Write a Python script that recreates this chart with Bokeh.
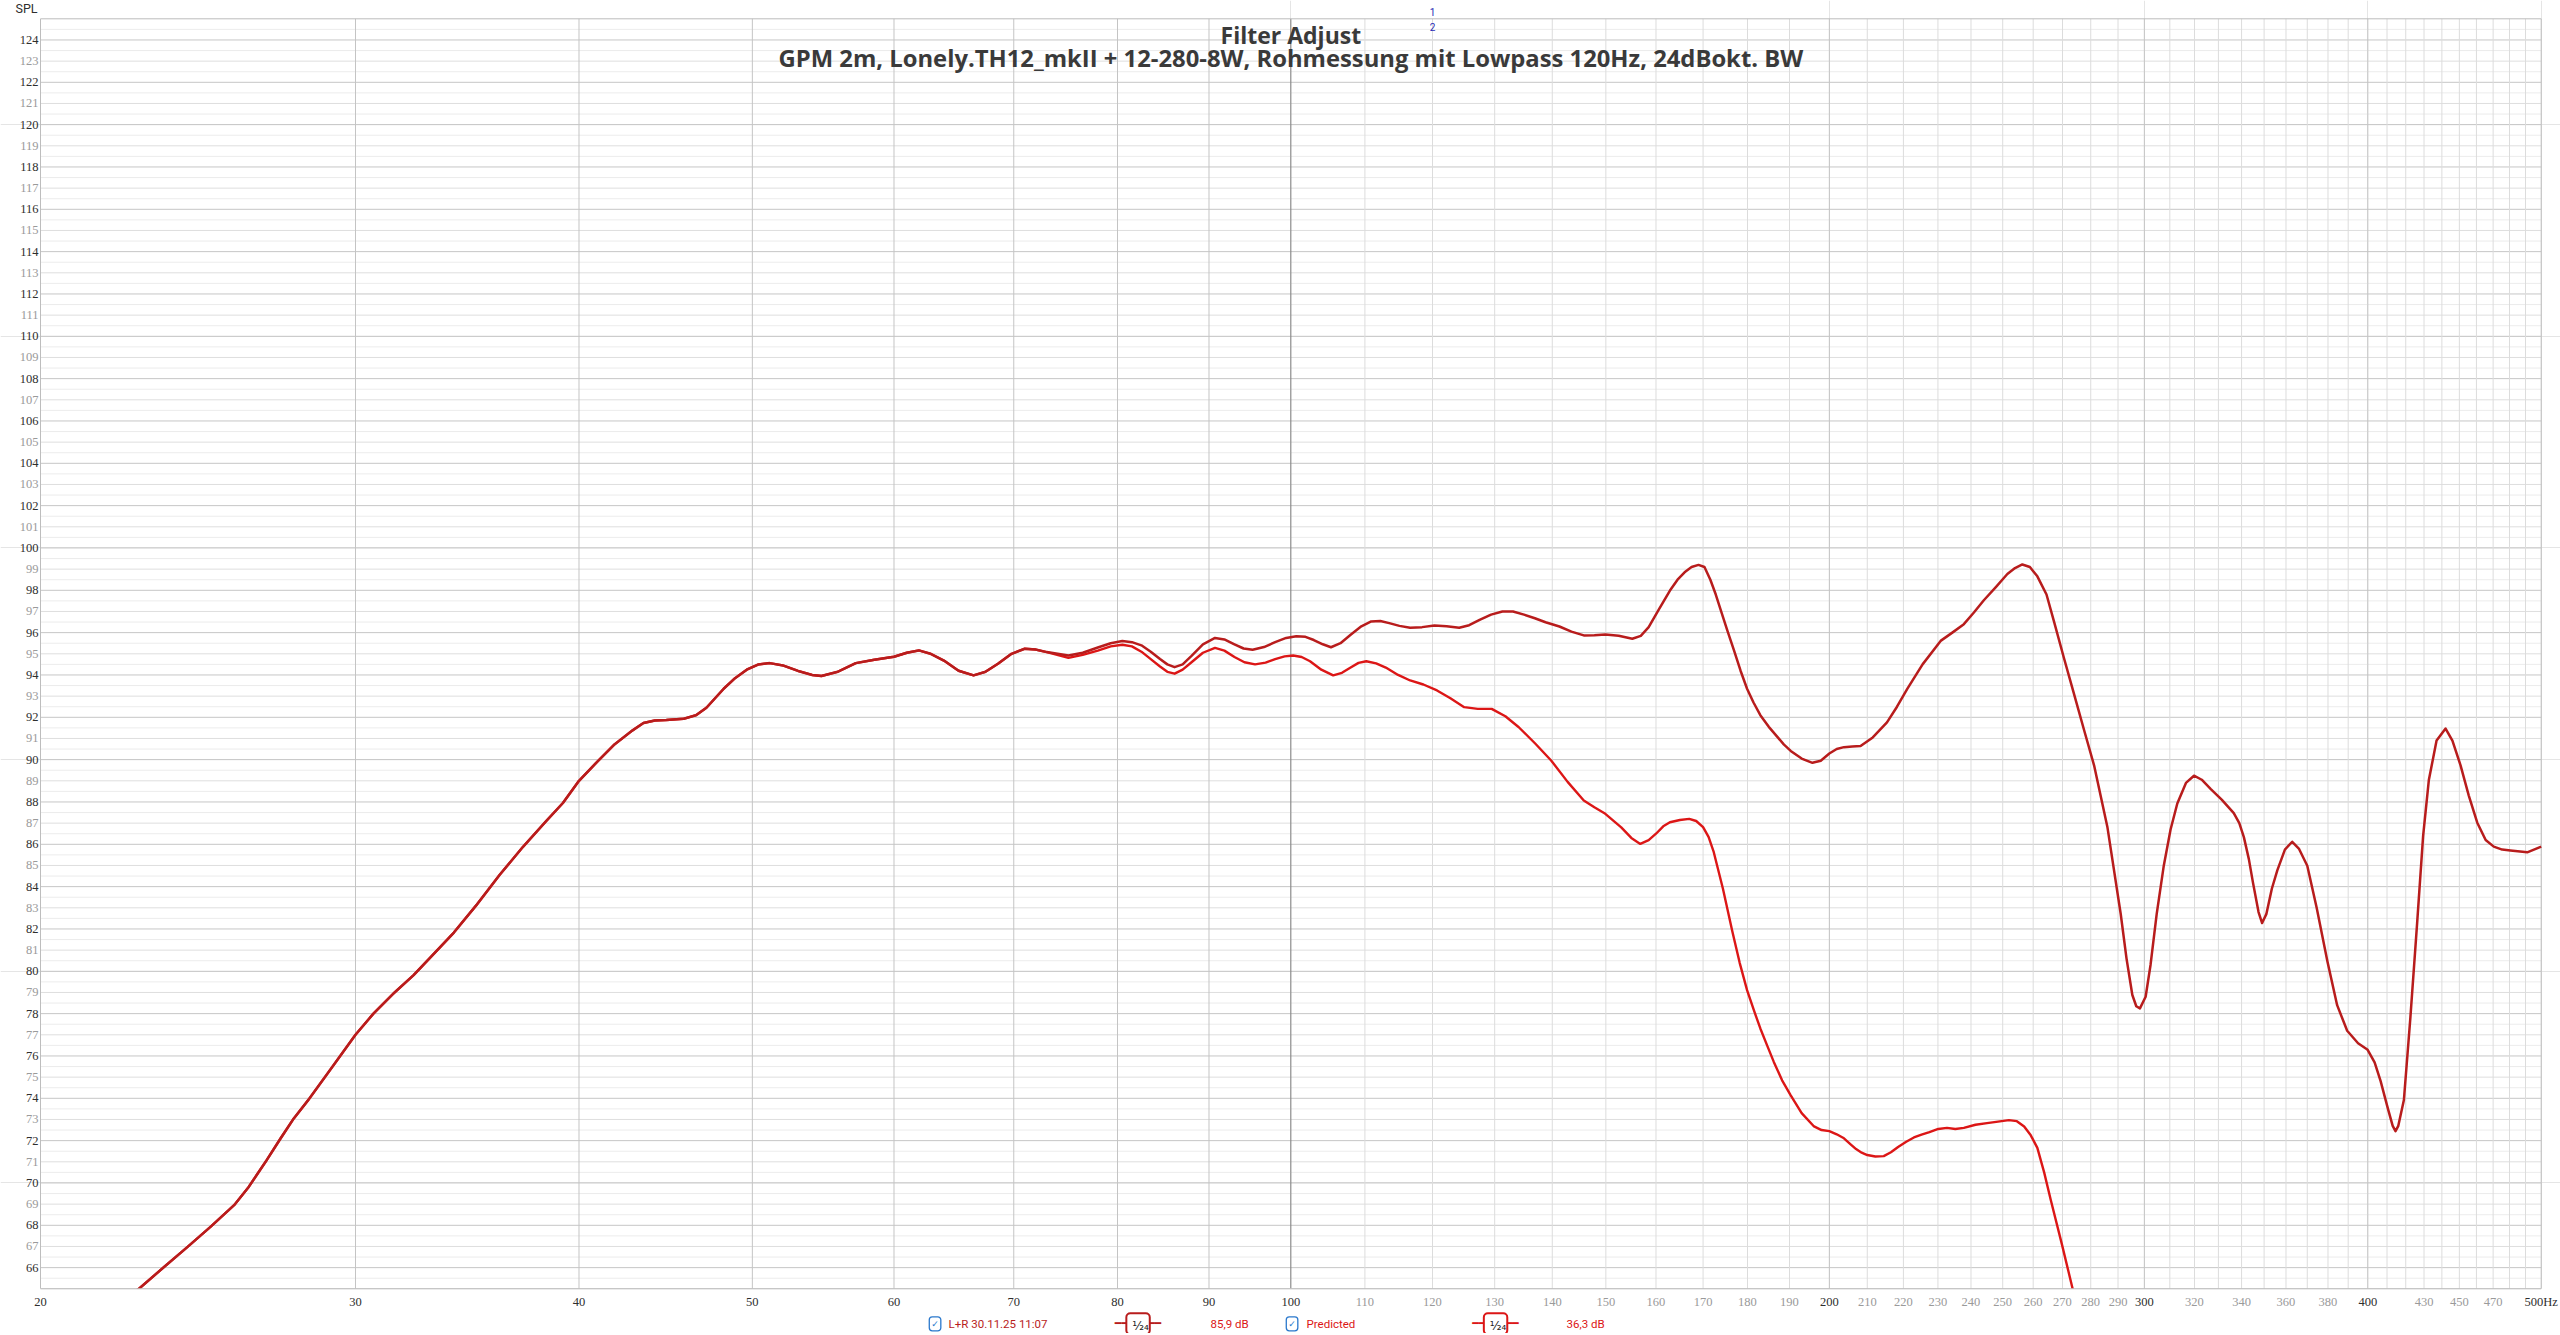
import math
from bokeh.plotting import figure
from bokeh.models import ColumnDataSource, LabelSet, Label, Range1d
from bokeh.embed import file_html
from bokeh.resources import INLINE

# ---------------- data (frequency in Hz, level in dB SPL) ----------------
# both curves coincide below ~74 Hz
low_pts = [(22.3, 64.5), (22.70, 65.0), (23.44, 66.02), (24.16, 66.97), (24.90, 67.94),
           (25.66, 68.95), (26.14, 69.8), (26.77, 71.1), (27.24, 72.1), (27.71, 73.05),
           (28.25, 73.95), (29.1, 75.45), (30.0, 77.0), (30.7, 78.0), (31.5, 78.95),
           (32.33, 79.82), (33.2, 80.85), (34.05, 81.83), (35.07, 83.15), (36.12, 84.56),
           (37.21, 85.87), (38.33, 87.08), (39.18, 87.95), (40.0, 89.0), (40.96, 89.91),
           (41.87, 90.72), (42.82, 91.36), (43.46, 91.73), (44.1, 91.85), (44.76, 91.87),
           (45.77, 91.93), (46.5, 92.1), (47.13, 92.45), (48.19, 93.35), (48.9, 93.85),
           (49.64, 94.25), (50.4, 94.5), (51.13, 94.56), (52.0, 94.45), (53.03, 94.19),
           (54.0, 94.0), (54.65, 93.95), (55.8, 94.15), (57.12, 94.56), (58.5, 94.72),
           (60.0, 94.86), (61.0, 95.05), (61.95, 95.16), (62.9, 95.0), (63.98, 94.68),
           (65.2, 94.2), (66.47, 93.98), (67.5, 94.15), (68.59, 94.53), (69.8, 95.0),
           (71.0, 95.24), (72.0, 95.2), (73.04, 95.08)]

meas_hi_pts = [(75.1, 94.92), (76.5, 95.05), (78.0, 95.3), (79.3, 95.5), (80.5, 95.60),
               (81.5, 95.55), (82.5, 95.4), (83.5, 95.1), (84.5, 94.75), (85.3, 94.5),
               (86.1, 94.37), (87.0, 94.5), (88.0, 94.9), (89.3, 95.45), (90.7, 95.75),
               (91.8, 95.68), (93.0, 95.45), (94.1, 95.25), (95.2, 95.19), (96.6, 95.32),
               (98.0, 95.55), (99.4, 95.75), (100.7, 95.83), (101.9, 95.8), (103.0, 95.65),
               (104.2, 95.45), (105.3, 95.31), (106.6, 95.5), (108.0, 95.9), (109.5, 96.3),
               (110.9, 96.53), (112.2, 96.55), (113.5, 96.45), (115.0, 96.32), (116.6, 96.23),
               (118.4, 96.26), (120.3, 96.34), (122.2, 96.3), (124.2, 96.23), (125.8, 96.35),
               (127.5, 96.6), (129.4, 96.85), (131.3, 97.0), (133.1, 97.0), (135.0, 96.85),
               (136.9, 96.68), (138.8, 96.49), (141.3, 96.29), (143.5, 96.05), (145.8, 95.87),
               (147.8, 95.88), (149.9, 95.91), (152.5, 95.85), (155.2, 95.71), (156.9, 95.85),
               (158.5, 96.26), (160.6, 97.1), (162.9, 97.99), (164.5, 98.5), (166.0, 98.85),
               (167.5, 99.1), (169.0, 99.2), (170.3, 99.1), (171.6, 98.5), (172.8, 97.8),
               (174.0, 97.0), (175.4, 96.1), (176.9, 95.16), (178.4, 94.2), (179.9, 93.35),
               (181.4, 92.7), (183.0, 92.1), (185.0, 91.55), (187.0, 91.09), (188.6, 90.72),
               (190.3, 90.41), (193.0, 90.05), (195.7, 89.85), (197.8, 89.95), (200.0, 90.29),
               (201.9, 90.5), (203.8, 90.59), (206.0, 90.62), (208.2, 90.64), (211.5, 91.05),
               (215.4, 91.76), (218.2, 92.5), (221.1, 93.34), (225.5, 94.5), (230.8, 95.61),
               (234.3, 96.0), (237.8, 96.40), (240.9, 96.95), (244.0, 97.53), (247.8, 98.15),
               (251.5, 98.77), (254.0, 99.05), (256.4, 99.22), (258.9, 99.1), (261.4, 98.66),
               (264.5, 97.8), (267.1, 96.51), (270.5, 94.8), (274.0, 93.12), (277.6, 91.4),
               (281.2, 89.73), (286.1, 86.79), (291.0, 82.72), (293.2, 80.6), (295.4, 78.88),
               (296.9, 78.35), (298.3, 78.25), (300.5, 78.8), (302.4, 80.3), (304.8, 82.7),
               (307.6, 84.99), (310.3, 86.7), (313.0, 87.93), (316.5, 88.9), (319.8, 89.24),
               (323.0, 89.05), (326.8, 88.61), (331.5, 88.1), (336.6, 87.47), (339.0, 87.0),
               (341.0, 86.34), (343.2, 85.3), (345.0, 84.2), (347.5, 82.8), (349.1, 82.28),
               (351.0, 82.7), (353.5, 83.9), (356.0, 84.77), (359.5, 85.75), (362.9, 86.12),
               (366.0, 85.8), (370.0, 84.99), (374.5, 83.0), (379.7, 80.47), (384.5, 78.4),
               (389.5, 77.19), (395.0, 76.6), (399.9, 76.29), (403.5, 75.7), (406.6, 74.82),
               (410.5, 73.5), (413.0, 72.7), (414.5, 72.45), (416.0, 72.7), (419.0, 73.92),
               (422.5, 77.8), (426.2, 82.28), (429.5, 86.4), (432.7, 89.05), (437.0, 90.9),
               (442.1, 91.47), (446.0, 90.9), (450.7, 89.73), (455.5, 88.3), (460.5, 87.02),
               (465.5, 86.2), (470.4, 85.89), (475.5, 85.75), (480.6, 85.71), (491.1, 85.62),
               (500.0, 85.89)]

pred_hi_pts = [(75.1, 94.81), (76.5, 94.95), (78.0, 95.15), (79.3, 95.35), (80.5, 95.43),
               (81.5, 95.35), (82.5, 95.1), (83.5, 94.75), (84.5, 94.4), (85.3, 94.15),
               (86.1, 94.06), (87.0, 94.25), (88.0, 94.6), (89.3, 95.05), (90.7, 95.28),
               (91.8, 95.15), (93.0, 94.85), (94.2, 94.6), (95.5, 94.5), (96.8, 94.58),
               (98.0, 94.75), (99.2, 94.88), (100.3, 94.92), (101.4, 94.85), (102.5, 94.65),
               (104.0, 94.25), (105.6, 93.98), (106.8, 94.1), (108.0, 94.35), (109.1, 94.57),
               (110.2, 94.65), (111.6, 94.55), (113.0, 94.35), (114.8, 94.0), (116.6, 93.74),
               (118.6, 93.55), (120.7, 93.27), (122.8, 92.9), (125.0, 92.48), (127.2, 92.4),
               (129.5, 92.40), (131.8, 92.05), (134.1, 91.53), (137.0, 90.75), (139.8, 89.96),
               (142.8, 88.95), (145.8, 88.07), (147.8, 87.75), (149.9, 87.44), (153.0, 86.8),
               (155.0, 86.3), (156.8, 86.02), (158.5, 86.2), (160.0, 86.5), (161.5, 86.85),
               (162.9, 87.04), (165.0, 87.15), (167.0, 87.2), (168.5, 87.1), (170.0, 86.81),
               (171.2, 86.35), (172.3, 85.67), (174.4, 83.9), (176.5, 81.9), (178.2, 80.4),
               (179.9, 79.11), (181.5, 78.15), (183.0, 77.3), (184.6, 76.5), (186.2, 75.72),
               (188.2, 74.85), (190.3, 74.14), (193.0, 73.3), (196.1, 72.67), (198.0, 72.5),
               (200.0, 72.45), (201.9, 72.3), (203.8, 72.11), (205.4, 71.85), (207.0, 71.6),
               (208.5, 71.43), (210.0, 71.32), (212.2, 71.25), (214.5, 71.27), (216.5, 71.45),
               (218.5, 71.7), (220.8, 71.95), (223.0, 72.15), (225.2, 72.28), (227.5, 72.4),
               (230.1, 72.55), (232.7, 72.6), (235.2, 72.55), (237.8, 72.6), (241.4, 72.75),
               (245.0, 72.83), (248.5, 72.9), (252.0, 72.97), (254.6, 72.92), (257.0, 72.67),
               (259.2, 72.25), (261.4, 71.66), (263.7, 70.5), (266.0, 69.17), (269.8, 67.1),
               (273.5, 65.03), (280.0, 61.5)]

meas_f = [f for f, _ in low_pts + meas_hi_pts]
meas_db = [d for _, d in low_pts + meas_hi_pts]
pred_f = [f for f, _ in low_pts + pred_hi_pts]
pred_db = [d for _, d in low_pts + pred_hi_pts]

F_MIN, F_MAX = 20, 500
DB_MIN, DB_MAX = 65, 125

y_major = list(range(66, 125, 2))
y_minor = list(range(67, 125, 2))
y_half = [v + 0.5 for v in range(65, 125)]

x_major_ticks = [30, 40, 50, 60, 70, 80, 90, 200, 300, 400]
x_center_tick = [100]
x_minor_ticks = [110, 120, 130, 140, 150, 160, 170, 180, 190, 210, 220, 230, 240, 250, 260,
                 270, 280, 290, 310, 320, 330, 340, 350, 360, 370, 380, 390, 410, 420, 430,
                 440, 450, 460, 470, 480, 490]

x_dark_labels = [20, 30, 40, 50, 60, 70, 80, 90, 100, 200, 300, 400, 500]
x_dark_text = ["20", "30", "40", "50", "60", "70", "80", "90", "100", "200", "300", "400", "500Hz"]
x_gray_labels = [110, 120, 130, 140, 150, 160, 170, 180, 190, 210, 220, 230, 240, 250, 260,
                 270, 280, 290, 320, 340, 360, 380, 430, 450, 470]

title1 = "Filter Adjust"
title2 = "GPM 2m, Lonely.TH12_mkII + 12-280-8W, Rohmessung mit Lowpass 120Hz, 24dBokt. BW"
legend_names = ["L+R 30.11.25 11:07", "Predicted"]
legend_levels = ["85,9 dB", "36,3 dB"]
smoothing = "¹⁄₂₄"

# ---------------- layout (pixels) ----------------
W, H = 2560, 1333
PX_L, PX_R, PX_T, PX_B = 40.0, 2540.7, 18.3, 1288.3
dec = (PX_R - PX_L) / math.log10(F_MAX / F_MIN)
pdb = (PX_B - PX_T) / (DB_MAX - DB_MIN)
x_lo = F_MIN * 10 ** (-PX_L / dec)
x_hi = F_MIN * 10 ** ((W - PX_L) / dec)
y_hi = DB_MAX + PX_T / pdb
y_lo = DB_MIN - (H - PX_B) / pdb

FONT = "Roboto"
TICK_SIZE = "12.5px"
MEAS_COLOR = "#b81c1c"
PRED_COLOR = "#dc1616"

p = figure(width=W, height=H, x_axis_type="log",
           x_range=Range1d(x_lo, x_hi), y_range=Range1d(y_lo, y_hi),
           x_axis_location=None, y_axis_location=None,
           output_backend="svg", toolbar_location=None,
           min_border_left=0, min_border_right=0, min_border_top=0, min_border_bottom=0)
p.outline_line_color = None
p.background_fill_color = "white"
p.border_fill_color = "white"

# grid lines restricted to the plotting area
for vals, col in [(y_half, "#ececec"), (y_minor, "#dedede"), (y_major, "#c6c6c6")]:
    p.segment(x0=[F_MIN] * len(vals), x1=[F_MAX] * len(vals), y0=vals, y1=vals,
              line_color=col, line_width=1)
for vals, col in [(x_minor_ticks, "#dcdcdc"), (x_major_ticks, "#c4c4c4"),
                  (x_center_tick, "#7e7e7e")]:
    p.segment(x0=vals, x1=vals, y0=[DB_MIN] * len(vals), y1=[DB_MAX] * len(vals),
              line_color=col, line_width=1)
p.quad(left=[F_MIN], right=[F_MAX], bottom=[DB_MIN], top=[DB_MAX], fill_color=None,
       line_color="#bdbdbd", line_width=1)

# curves
p.line(pred_f, pred_db, line_color=PRED_COLOR, line_width=2.4, line_join="round")
p.line(meas_f, meas_db, line_color=MEAS_COLOR, line_width=2.5, line_join="round")
# white mask below the plotting area so the falling curve ends at the frame edge
p.quad(left=[x_lo], right=[x_hi], bottom=[y_lo], top=[DB_MIN], fill_color="white",
       line_color=None)
p.segment(x0=[F_MIN], x1=[F_MAX], y0=[DB_MIN], y1=[DB_MIN], line_color="#bdbdbd", line_width=1)

# y tick labels
src_ymaj = ColumnDataSource(dict(x=[F_MIN] * len(y_major), y=y_major, t=[str(v) for v in y_major]))
src_ymin = ColumnDataSource(dict(x=[F_MIN] * len(y_minor), y=y_minor, t=[str(v) for v in y_minor]))
for src, col in [(src_ymaj, "#2e2e2e"), (src_ymin, "#9a9a9a")]:
    p.add_layout(LabelSet(x="x", y="y", text="t", source=src, x_offset=-2,
                          text_align="right", text_baseline="middle", text_color=col,
                          text_font=FONT, text_font_size=TICK_SIZE))

# x tick labels
src_xd = ColumnDataSource(dict(x=x_dark_labels, y=[DB_MIN] * len(x_dark_labels), t=x_dark_text))
src_xg = ColumnDataSource(dict(x=x_gray_labels, y=[DB_MIN] * len(x_gray_labels),
                               t=[str(v) for v in x_gray_labels]))
for src, col in [(src_xd, "#2e2e2e"), (src_xg, "#9a9a9a")]:
    p.add_layout(LabelSet(x="x", y="y", text="t", source=src, y_offset=-13,
                          text_align="center", text_baseline="middle", text_color=col,
                          text_font=FONT, text_font_size=TICK_SIZE))

# axis name
p.add_layout(Label(x=F_MIN, y=DB_MAX, x_offset=-3, y_offset=10, text="SPL", text_align="right",
                   text_baseline="middle", text_color="#2e2e2e", text_font=FONT,
                   text_font_size=TICK_SIZE))

# titles, centred on the plotting area (100 Hz is its geometric centre)
XC = math.sqrt(F_MIN * F_MAX)
p.add_layout(Label(x=XC, y=DB_MAX, y_offset=-16.5, text=title1, text_align="center",
                   text_baseline="middle", text_color="#3a3a3a", text_font="Open Sans",
                   text_font_style="bold", text_font_size="23px"))
p.add_layout(Label(x=XC, y=DB_MAX, y_offset=-39.5, text=title2, text_align="center",
                   text_baseline="middle", text_color="#3a3a3a", text_font="Open Sans",
                   text_font_style="bold", text_font_size="23.8px"))
for txt, dy in [("1", 7.3), ("2", -7.7)]:
    p.add_layout(Label(x=XC, y=DB_MAX, x_offset=141.7, y_offset=dy, text=txt,
                       text_align="center", text_baseline="middle", text_color="#2828b4",
                       text_font=FONT, text_font_size="10px"))

# legend row under the x labels
LY = -35


def checkbox(dx):
    p.add_layout(Label(x=XC, y=DB_MIN, x_offset=dx, y_offset=LY, text="✓", text_align="center",
                       text_baseline="middle", text_color="#2a78cc", text_font="DejaVu Sans",
                       text_font_size="9px", border_line_color="#2a78cc", border_line_width=1.3,
                       border_radius=3, padding=2, background_fill_color="white"))


def smooth_icon(dx, col):
    p.add_layout(Label(x=XC, y=DB_MIN, x_offset=dx, y_offset=LY, text="━━━━━━━",
                       text_align="center", text_baseline="middle", text_color=col,
                       text_font="DejaVu Sans", text_font_size="11px"))
    p.add_layout(Label(x=XC, y=DB_MIN, x_offset=dx, y_offset=LY, text=smoothing,
                       text_align="center", text_baseline="middle", text_color="#222222",
                       text_font="DejaVu Sans", text_font_size="12px",
                       border_line_color=col, border_line_width=2, border_radius=4,
                       padding=[6, 1, 6, 1], background_fill_color="white"))


def text_item(dx, txt, col):
    p.add_layout(Label(x=XC, y=DB_MIN, x_offset=dx, y_offset=LY, text=txt, text_align="left",
                       text_baseline="middle", text_color=col, text_font=FONT,
                       text_font_size="11.5px"))


checkbox(-355.8)
text_item(-342.3, legend_names[0], MEAS_COLOR)
smooth_icon(-152.8, MEAS_COLOR)
text_item(-80.3, legend_levels[0], PRED_COLOR)
checkbox(1.2)
text_item(15.7, legend_names[1], PRED_COLOR)
smooth_icon(204.7, PRED_COLOR)
text_item(275.7, legend_levels[1], PRED_COLOR)

open("out.html", "w").write(file_html(p, INLINE))
